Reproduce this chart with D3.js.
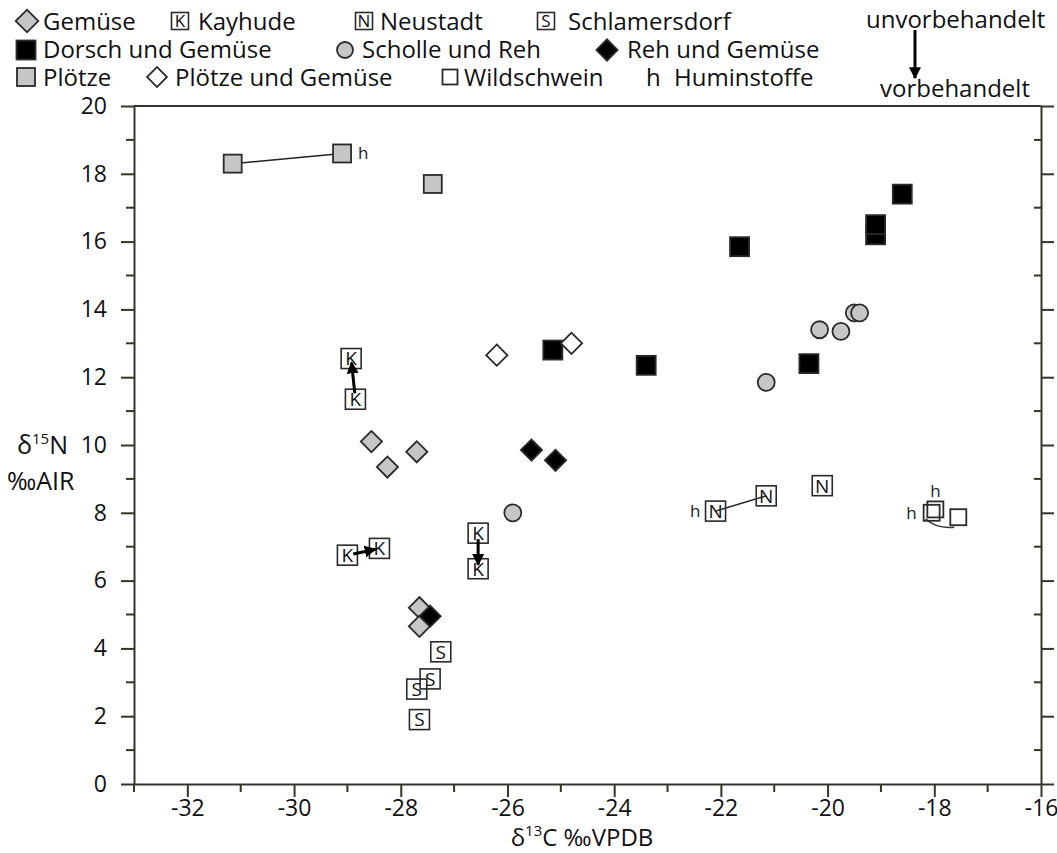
<!DOCTYPE html>
<html>
<head>
<meta charset="utf-8">
<script src="https://cdn.jsdelivr.net/npm/d3@7"></script>
<style>
  body { margin: 0; background: #fff; }
  svg { font-family: "Open Sans", sans-serif; }
  .axis path, .axis line { stroke: #34342c; stroke-width: 2; }
  .axis text { font-size: 23px; fill: #111; font-family: "Open Sans", sans-serif; }
</style>
</head>
<body>
<svg width="1057" height="853"></svg>
<script>
// values: [delta13C, delta15N]
const ploetze = [[-31.15, 18.3], [-29.1, 18.6], [-27.4, 17.7]];
const dorschGemuese = [[-25.15, 12.8], [-23.4, 12.35], [-21.65, 15.85], [-20.35, 12.4], [-19.1, 16.2], [-19.1, 16.5], [-18.6, 17.4]];
const scholleReh = [[-25.9, 8.0], [-21.15, 11.85], [-20.15, 13.4], [-19.75, 13.35], [-19.5, 13.9], [-19.4, 13.9]];
const rehGemuese = [[-25.55, 9.85], [-25.1, 9.55], [-27.45, 4.95]];
const gemuese = [[-28.55, 10.1], [-28.25, 9.35], [-27.7, 9.8], [-27.65, 5.2], [-27.65, 4.65]];
const ploetzeGemuese = [[-26.2, 12.65], [-24.8, 13.0]];
const wildschwein = [[-17.98, 8.1], [-18.05, 8.0], [-17.55, 7.87]];
const kayhude = [[-28.93, 12.55], [-28.85, 11.35], [-29.0, 6.75], [-28.4, 6.95], [-26.55, 7.4], [-26.55, 6.35]];
const neustadt = [[-22.1, 8.05], [-21.15, 8.5], [-20.1, 8.8]];
const schlamersdorf = [[-27.25, 3.9], [-27.45, 3.1], [-27.7, 2.8], [-27.65, 1.9]];

// unvorbehandelt -> vorbehandelt (indices into kayhude)
const kayhudeArrows = [[1, 0], [2, 3], [4, 5]];
// points with an "h" (Huminstoffe) next to them
const humin = [
  { p: ploetze[1], side: "right" },
  { p: neustadt[0], side: "left" },
  { p: wildschwein[0], side: "top" },
  { p: wildschwein[1], side: "left" }
];

const xTicks = [-32, -30, -28, -26, -24, -22, -20, -18, -16];
const yTicks = [0, 2, 4, 6, 8, 10, 12, 14, 16, 18, 20];

let svg = d3.select("svg");

let x = d3.scaleLinear().domain([-33, -16]).range([134, 1041]);
let y = d3.scaleLinear().domain([0, 20]).range([784, 106]);

let defs = svg.append("defs");
defs.append("marker")
  .attr("id", "head")
  .attr("viewBox", "0 0 10 10")
  .attr("refX", 9).attr("refY", 5)
  .attr("markerWidth", 4).attr("markerHeight", 4)
  .attr("markerUnits", "strokeWidth")
  .attr("orient", "auto")
  .append("path").attr("d", "M0,0L10,5L0,10z").attr("fill", "#000");

// axes
let ax = svg.append("g").attr("class", "axis").attr("transform", "translate(0,784)");
ax.call(d3.axisBottom(x).tickValues(xTicks).tickSize(13).tickSizeOuter(0).tickPadding(3).tickFormat(d => String(d)));
ax.selectAll(".minor").data(d3.range(-33, -16, 2)).enter().append("line")
  .attr("x1", d => x(d)).attr("x2", d => x(d)).attr("y1", 0).attr("y2", 8);

let ay = svg.append("g").attr("class", "axis").attr("transform", "translate(134,0)");
ay.call(d3.axisLeft(y).tickValues(yTicks).tickSize(13).tickSizeOuter(0).tickPadding(14));
ay.selectAll(".minor").data(d3.range(1, 20, 2)).enter().append("line")
  .attr("y1", d => y(d)).attr("y2", d => y(d)).attr("x1", 0).attr("x2", -8);

let ar = svg.append("g").attr("class", "axis").attr("transform", "translate(1041,0)");
ar.call(d3.axisLeft(y).tickValues(yTicks).tickSize(-13).tickSizeOuter(0).tickFormat(""));
ar.selectAll(".minor").data(d3.range(1, 20, 2)).enter().append("line")
  .attr("y1", d => y(d)).attr("y2", d => y(d)).attr("x1", 0).attr("x2", -7);

svg.append("line").attr("class", "axis")
  .attr("x1", x(-33)).attr("x2", x(-16)).attr("y1", y(20)).attr("y2", y(20))
  .attr("stroke", "#34342c").attr("stroke-width", 2);

// axis titles
let yt = svg.append("text").attr("x", 17).attr("y", 454).attr("font-size", 25).attr("fill", "#111");
yt.append("tspan").text("δ");
yt.append("tspan").attr("font-size", 15).attr("dy", -10).text("15");
yt.append("tspan").attr("dy", 10).text("N");
svg.append("text").attr("x", 7).attr("y", 490).attr("font-size", 25).attr("fill", "#111").text("‰AIR");

let xt = svg.append("text").attr("x", 582).attr("y", 846).attr("text-anchor", "middle").attr("font-size", 24).attr("fill", "#111");
xt.append("tspan").text("δ");
xt.append("tspan").attr("font-size", 15).attr("dy", -10).text("13");
xt.append("tspan").attr("dy", 10).text("C ‰VPDB");

// marker helpers
function square(g, cx, cy, fill, s) {
  g.append("rect").attr("x", cx - s / 2).attr("y", cy - s / 2).attr("width", s).attr("height", s)
    .attr("fill", fill).attr("stroke", "#2a2a2a").attr("stroke-width", 1.8);
}
function diamond(g, cx, cy, fill, s) {
  g.append("rect").attr("x", -s / 2).attr("y", -s / 2).attr("width", s).attr("height", s)
    .attr("transform", `translate(${cx},${cy}) rotate(45)`)
    .attr("fill", fill).attr("stroke", "#2a2a2a").attr("stroke-width", 1.8);
}
function circle(g, cx, cy, fill, r) {
  g.append("circle").attr("cx", cx).attr("cy", cy).attr("r", r)
    .attr("fill", fill).attr("stroke", "#2a2a2a").attr("stroke-width", 1.8);
}
function letterBox(g, cx, cy, letter, s, fs) {
  g.append("rect").attr("x", cx - s / 2).attr("y", cy - s / 2).attr("width", s).attr("height", s)
    .attr("fill", "none").attr("stroke", "#2a2a2a").attr("stroke-width", 1.6);
  g.append("text").attr("x", cx).attr("y", cy + fs * 0.36).attr("text-anchor", "middle")
    .attr("font-size", fs).attr("fill", "#111").text(letter);
}

let plot = svg.append("g");

// connecting lines
plot.append("line")
  .attr("x1", x(ploetze[0][0])).attr("y1", y(ploetze[0][1]))
  .attr("x2", x(ploetze[1][0])).attr("y2", y(ploetze[1][1]))
  .attr("stroke", "#222").attr("stroke-width", 1.5);
plot.append("line")
  .attr("x1", x(neustadt[0][0])).attr("y1", y(neustadt[0][1]))
  .attr("x2", x(neustadt[1][0])).attr("y2", y(neustadt[1][1]))
  .attr("stroke", "#222").attr("stroke-width", 1.5);
{
  let a = [x(wildschwein[1][0]), y(wildschwein[1][1])];
  let b = [x(wildschwein[2][0]), y(wildschwein[2][1])];
  let p = d3.path();
  p.moveTo(a[0] - 6, a[1] + 6);
  p.quadraticCurveTo(a[0] + 4, a[1] + 16, b[0] - 4, b[1] + 10);
  plot.append("path").attr("d", p.toString()).attr("fill", "none").attr("stroke", "#333").attr("stroke-width", 1.5);
}

ploetze.forEach(d => square(plot, x(d[0]), y(d[1]), "#c6c6c6", 18));
dorschGemuese.forEach(d => square(plot, x(d[0]), y(d[1]), "#000", 19));
scholleReh.forEach(d => circle(plot, x(d[0]), y(d[1]), "#c6c6c6", 8.5));
gemuese.forEach(d => diamond(plot, x(d[0]), y(d[1]), "#c6c6c6", 15));
rehGemuese.forEach(d => diamond(plot, x(d[0]), y(d[1]), "#000", 15));
ploetzeGemuese.forEach(d => diamond(plot, x(d[0]), y(d[1]), "#fff", 15));
wildschwein.forEach(d => square(plot, x(d[0]), y(d[1]), "none", 16));
kayhude.forEach(d => letterBox(plot, x(d[0]), y(d[1]), "K", 20, 19));
neustadt.forEach(d => letterBox(plot, x(d[0]), y(d[1]), "N", 20, 19));
schlamersdorf.forEach(d => letterBox(plot, x(d[0]), y(d[1]), "S", 20, 19));

kayhudeArrows.forEach(([i, j]) => {
  let x1 = x(kayhude[i][0]), y1 = y(kayhude[i][1]);
  let x2 = x(kayhude[j][0]), y2 = y(kayhude[j][1]);
  let len = Math.hypot(x2 - x1, y2 - y1), ux = (x2 - x1) / len, uy = (y2 - y1) / len;
  plot.append("line")
    .attr("x1", x1 + ux * 6).attr("y1", y1 + uy * 6)
    .attr("x2", x2 - ux * 4).attr("y2", y2 - uy * 4)
    .attr("stroke", "#000").attr("stroke-width", 3)
    .attr("marker-end", "url(#head)");
});

humin.forEach(h => {
  let cx = x(h.p[0]), cy = y(h.p[1]);
  let t = plot.append("text").attr("font-size", 17).attr("fill", "#222").text("h");
  if (h.side === "right") t.attr("x", cx + 16).attr("y", cy + 6);
  if (h.side === "left") t.attr("x", cx - 15).attr("y", cy + 6).attr("text-anchor", "end");
  if (h.side === "top") t.attr("x", cx).attr("y", cy - 12).attr("text-anchor", "middle");
});

// legend
let lg = svg.append("g").attr("font-size", 24).attr("fill", "#111");
diamond(lg, 27, 21, "#c6c6c6", 16);
lg.append("text").attr("x", 43).attr("y", 30).text("Gemüse");
letterBox(lg, 180, 21, "K", 17, 17);
lg.append("text").attr("x", 198).attr("y", 30).text("Kayhude");
letterBox(lg, 364, 21, "N", 17, 17);
lg.append("text").attr("x", 380).attr("y", 30).text("Neustadt");
letterBox(lg, 546, 21, "S", 17, 17);
lg.append("text").attr("x", 568).attr("y", 30).text("Schlamersdorf");

square(lg, 26, 50, "#000", 19);
lg.append("text").attr("x", 43).attr("y", 58).text("Dorsch und Gemüse");
circle(lg, 345, 50, "#c6c6c6", 8);
lg.append("text").attr("x", 362).attr("y", 58).text("Scholle und Reh");
diamond(lg, 607, 50, "#000", 15);
lg.append("text").attr("x", 627).attr("y", 58).text("Reh und Gemüse");

square(lg, 26, 77, "#c6c6c6", 18);
lg.append("text").attr("x", 43).attr("y", 86).text("Plötze");
diamond(lg, 157, 77, "#fff", 14);
lg.append("text").attr("x", 175).attr("y", 86).text("Plötze und Gemüse");
square(lg, 450, 77, "#fff", 15);
lg.append("text").attr("x", 464).attr("y", 86).text("Wildschwein");
lg.append("text").attr("x", 646).attr("y", 86).text("h");
lg.append("text").attr("x", 674).attr("y", 86).text("Huminstoffe");

lg.append("text").attr("x", 866).attr("y", 28).text("unvorbehandelt");
lg.append("text").attr("x", 880).attr("y", 97).text("vorbehandelt");
lg.append("line").attr("x1", 915).attr("y1", 30).attr("x2", 915).attr("y2", 78)
  .attr("stroke", "#000").attr("stroke-width", 3).attr("marker-end", "url(#head)");
</script>
</body>
</html>
